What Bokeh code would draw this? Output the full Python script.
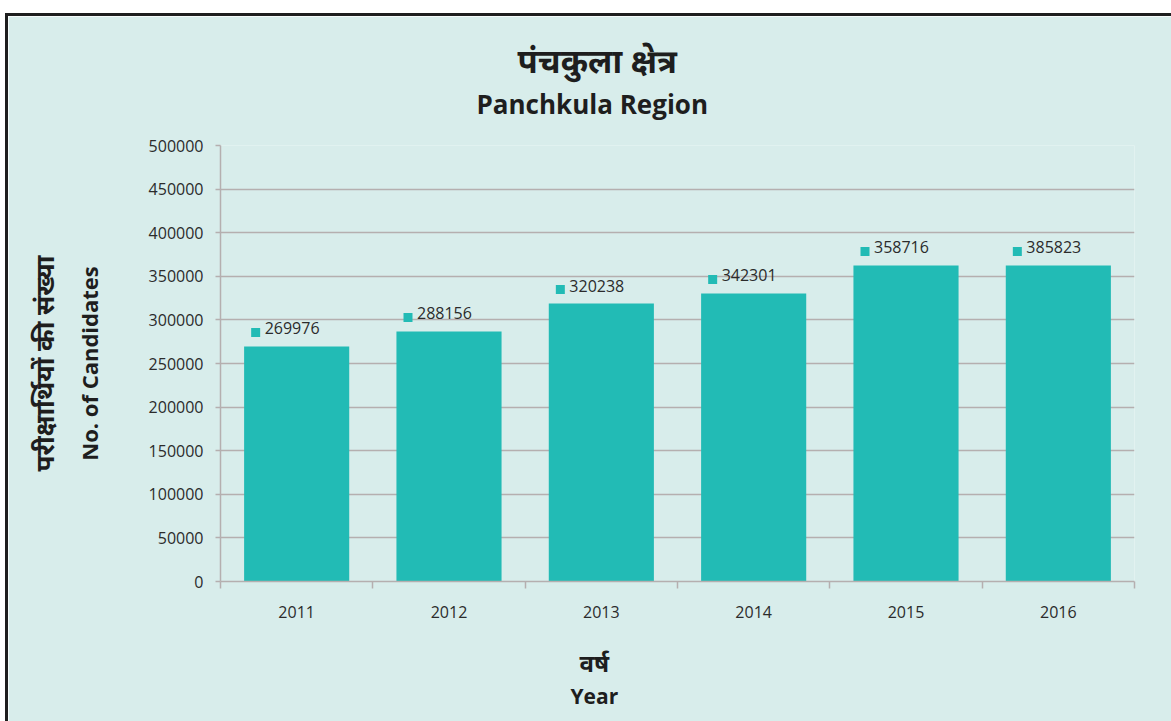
import numpy as np
from bokeh.plotting import figure
from bokeh.models import (Range1d, FixedTicker, SingleIntervalTicker, NumeralTickFormatter,
                          Title, Div)
from bokeh.layouts import column, row
from bokeh.core.properties import value
from bokeh.embed import file_html
from bokeh.resources import INLINE

# ---- data ----
years = ["2011", "2012", "2013", "2014", "2015", "2016"]
bar_values = [269500, 286700, 318800, 330300, 362400, 362400]
value_labels = ["269976", "288156", "320238", "342301", "358716", "385823"]
title_hi = "पंचकुला क्षेत्र"
title_en = "Panchkula Region"
ylabel_hi = "परीक्षार्थियों की संख्या"
ylabel_en = "No. of Candidates"
xlabel_hi = "वर्ष"
xlabel_en = "Year"

BG = "#D8EDEB"
BAR = "#22BBB5"
GRID = "#B5AFAF"
TXT = "#2b2b2b"
DARK = "#1e1e1e"
FONT = "Open Sans"
DEVA = "Noto Sans Devanagari, Noto Sans, Open Sans, sans-serif"

W, H = 1163, 705
ML, MR, MT, MB = 212, 37, 129, 140
fw = W - ML - MR
fh = H - MT - MB

n = len(years)
xs = np.arange(n) + 0.5
vals = np.array(bar_values, dtype=float)

p = figure(width=W, height=H, output_backend="svg", toolbar_location=None, title=None,
           x_range=Range1d(0, n), y_range=Range1d(0, 500000),
           min_border_left=ML, min_border_right=MR, min_border_top=MT, min_border_bottom=MB)
p.background_fill_color = BG
p.border_fill_color = BG
p.outline_line_color = None

p.vbar(x=xs, top=vals, width=0.69, fill_color=BAR, line_color=None)

# value labels with square markers
px_x = n / fw
px_y = 500000 / fh
mx = xs - 41 * px_x
my = vals + 14 * px_y
p.scatter(x=mx, y=my, marker="square", size=9, fill_color=BAR, line_color=None)
p.text(x=mx, y=my, text=value_labels, x_offset=9, y_offset=-4,
       text_baseline="middle", text_align="left",
       text_font=value(FONT), text_font_size="16px", text_color=TXT)

# axes
xa = p.xaxis[0]
xa.ticker = FixedTicker(ticks=list(xs), minor_ticks=list(range(n + 1)))
xa.major_label_overrides = {float(x): y for x, y in zip(xs, years)}
xa.major_tick_line_color = None
xa.minor_tick_in = 0
xa.minor_tick_out = 7
xa.minor_tick_line_color = GRID
xa.minor_tick_line_width = 1.5
xa.axis_line_color = GRID
xa.axis_line_width = 1.5
xa.major_label_standoff = 17
xa.major_label_text_font = FONT
xa.major_label_text_font_size = "16px"
xa.major_label_text_color = TXT

ya = p.yaxis[0]
ya.ticker = SingleIntervalTicker(interval=50000, num_minor_ticks=0)
ya.formatter = NumeralTickFormatter(format="0")
ya.major_tick_in = 0
ya.major_tick_out = 5
ya.major_tick_line_color = GRID
ya.major_tick_line_width = 1.5
ya.minor_tick_line_color = None
ya.axis_line_color = GRID
ya.axis_line_width = 1.5
ya.major_label_standoff = 12
ya.major_label_text_font = FONT
ya.major_label_text_font_size = "16px"
ya.major_label_text_color = TXT

p.xgrid.grid_line_color = None
p.ygrid.grid_line_color = GRID
p.ygrid.grid_line_width = 1.5


def spacer(side, s):
    p.add_layout(Title(text=" ", text_font_size="1px", standoff=s), side)


def ttl(side, text, size, bold, font, standoff=0, align="center", offset=0):
    p.add_layout(Title(text=text, text_font=font, text_font_size=size,
                       text_font_style="bold" if bold else "normal",
                       text_color=DARK, align=align, offset=offset,
                       vertical_align="middle", standoff=standoff), side)


# above (from frame outward)
spacer("above", 20)
ttl("above", title_en, "26px", True, FONT, 0, "left", 256)
ttl("above", title_hi, "33px", True, DEVA, -4, "left", 297)
# below
spacer("below", 28)
ttl("below", xlabel_hi, "24px", True, DEVA, -5, "left", 359)
ttl("below", xlabel_en, "21px", True, FONT, 0, "left", 350)
# left
spacer("left", 38)
ttl("left", ylabel_en, "22px", True, FONT, 0)
ttl("left", ylabel_hi, "26px", True, DEVA, 13)


def block(w, h, color):
    return Div(text="", width=w, height=h, margin=0,
               styles={"background-color": color})


layout = column(
    block(1, 13, "#ffffff"),
    row(block(5, 708, "#ffffff"),
        block(3, 708, DARK),
        column(block(W, 3, DARK), p, margin=0, spacing=0),
        margin=0, spacing=0),
    margin=0, spacing=0,
)

open("out.html", "w").write(file_html(layout, INLINE))
